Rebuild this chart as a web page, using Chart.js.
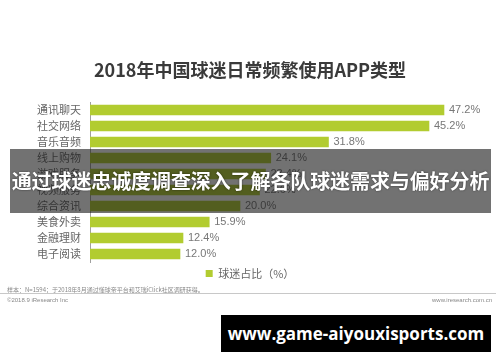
<!DOCTYPE html>
<html><head><meta charset="utf-8">
<script src="https://cdn.jsdelivr.net/npm/chart.js@4.4.0/dist/chart.umd.min.js"></script>
<style>
html,body{margin:0;padding:0;background:#fff;}
#wrap{position:relative;width:500px;height:362px;overflow:hidden;font-family:"Noto Sans CJK SC","Noto Sans",sans-serif;}
#c{position:absolute;left:0;top:0;}
.abs{position:absolute;white-space:nowrap;}
#banner{left:10px;top:149px;width:481px;height:64px;background:rgba(20,20,20,0.6);}
#bannerText{left:10px;top:149px;width:481px;height:64px;line-height:64px;text-align:center;color:#fff;font-weight:bold;font-size:20px;letter-spacing:-0.1px;text-shadow:0 0 2px rgba(0,0,0,0.6);}
#note{left:7px;top:285px;font-size:6px;color:#888;}
#rule{left:0;top:293px;width:496px;height:1px;background:#c8c8c8;}
#copy{left:7px;top:297px;font-size:6px;color:#888;font-family:"Liberation Sans",sans-serif;}
#site{right:8px;top:297px;font-size:6px;color:#888;font-family:"Liberation Sans",sans-serif;}
#wm{left:221px;top:315px;width:270px;height:37px;background:#000;color:#fff;font-weight:bold;font-size:17px;line-height:37px;text-align:center;font-family:"Open Sans","DejaVu Sans",sans-serif;}
</style></head>
<body><div id="wrap">
<canvas id="c" width="500" height="362"></canvas>
<div class="abs" id="banner"></div>
<div class="abs" id="bannerText">通过球迷忠诚度调查深入了解各队球迷需求与偏好分析</div>
<div class="abs" id="note">样本：N=1594；于2018年8月通过懂球帝平台和艾瑞iClick社区调研获得。</div>
<div class="abs" id="rule"></div>
<div class="abs" id="copy">©2018.9 iResearch Inc</div>
<div class="abs" id="site">www.iresearch.com.cn</div>
<div class="abs" id="wm">www.game-aiyouxisports.com</div>
</div>
<script>
const titleText = "2018年中国球迷日常频繁使用APP类型";
const categories = ["通讯聊天","社交网络","音乐音频","线上购物","游戏服务","视频服务","综合资讯","美食外卖","金融理财","电子阅读"];
const shareValues = [47.2,45.2,31.8,24.1,23.4,22.6,20.0,15.9,12.4,12.0];
const seriesName = "球迷占比（%）";

const valueLabels = {
  id:'valueLabels',
  afterDatasetsDraw(chart){
    const ctx = chart.ctx;
    const meta = chart.getDatasetMeta(0);
    ctx.save();
    ctx.font = '11px "Liberation Sans", "Noto Sans", sans-serif';
    ctx.fillStyle = '#777';
    ctx.textBaseline = 'middle';
    ctx.textAlign = 'left';
    meta.data.forEach((bar,i)=>{
      ctx.fillText(shareValues[i].toFixed(1)+'%', bar.x+5, bar.y);
    });
    ctx.restore();
  }
};

new Chart(document.getElementById('c'), {
  type:'bar',
  data:{labels:categories, datasets:[{label:seriesName, data:shareValues, backgroundColor:'#b2cc30', barThickness:10}]},
  options:{
    responsive:false, animation:false, indexAxis:'y',
    layout:{padding:{left:0,right:0,top:0,bottom:73}},
    scales:{
      x:{display:false,min:0,max:54.67},
      y:{
        afterFit(s){s.width=90;},
        grid:{display:true,drawOnChartArea:false,drawTicks:false},
        border:{display:true,color:'#a0a0a0',width:1},
        ticks:{autoSkip:false,color:'#666',padding:9,font:{size:11,family:'"Noto Sans CJK SC", sans-serif'}}
      }
    },
    plugins:{
      title:{display:true,text:titleText,color:'#3a3a3a',font:{size:18,weight:'bold',family:'"Noto Sans CJK SC", sans-serif',lineHeight:1.2},padding:{top:59.2,bottom:21.2}},
      legend:{display:true,position:'bottom',labels:{boxWidth:7,boxHeight:7,padding:6,color:'#666',font:{size:11,family:'"Noto Sans CJK SC", sans-serif'}}},
      tooltip:{enabled:false}
    }
  },
  plugins:[valueLabels]
});
</script>
</body></html>
